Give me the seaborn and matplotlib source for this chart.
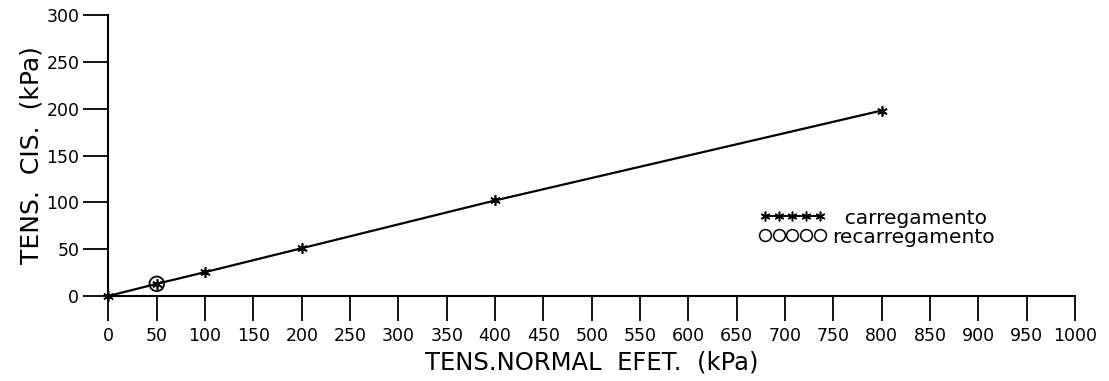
import matplotlib
matplotlib.use("Agg")
import matplotlib.pyplot as plt
import seaborn as sns
import pandas as pd
from matplotlib.lines import Line2D

# Shear test envelope: effective normal stress vs shear stress (kPa)
normal_load = [0, 50, 100, 200, 400, 800]
shear_load = [0, 13, 25.5, 51, 102, 198]
normal_reload = [50]
shear_reload = [13]

x_ticks = list(range(0, 1001, 50))
y_ticks = list(range(0, 301, 50))

sns.set_theme(style="ticks")
plt.rcParams["font.family"] = ["DejaVu Sans"]
plt.rcParams["text.color"] = "black"

fig = plt.figure(figsize=(11.09, 3.81), dpi=100)
ax = fig.add_axes([0.0978, 0.2231, 0.9693 - 0.0978, 0.9606 - 0.2231])

load = pd.DataFrame({"x": normal_load, "y": shear_load})
reload = pd.DataFrame({"x": normal_reload, "y": shear_reload})

sns.lineplot(data=load, x="x", y="y", ax=ax, color="black", linewidth=1.6,
             marker=(6, 2, 0), markersize=7.5, markeredgewidth=1.2,
             markeredgecolor="black", clip_on=False)
sns.scatterplot(data=reload, x="x", y="y", ax=ax, s=110, facecolor="none",
                edgecolor="black", linewidth=1.3, clip_on=False, zorder=5)

ax.set_xlim(0, 1000)
ax.set_ylim(0, 300)
ax.set_xticks(x_ticks)
ax.set_yticks(y_ticks)
ax.tick_params(axis="both", direction="out", length=18, width=1.3,
               color="black", labelsize=12.5, labelcolor="black")
ax.tick_params(axis="x", pad=4)
ax.tick_params(axis="y", pad=3)
for side in ("top", "right"):
    ax.spines[side].set_visible(False)
for side in ("left", "bottom"):
    ax.spines[side].set_linewidth(1.5)
    ax.spines[side].set_color("black")

ax.set_xlabel("TENS.NORMAL  EFET.  (kPa)", fontsize=17.5, color="black", labelpad=4)
ax.set_ylabel("TENS.  CIS.  (kPa)", fontsize=18, color="black", labelpad=2)

handles = [
    Line2D([], [], color="black", linewidth=1.4, marker=(6, 2, 0), markersize=7,
           markeredgewidth=1.1),
    Line2D([], [], color="none", marker="o", markersize=8.5, markerfacecolor="none",
           markeredgecolor="black", markeredgewidth=1.1),
]
leg = ax.legend(handles, ["  carregamento", "recarregamento"], numpoints=5,
                frameon=False, fontsize=14.5, handlelength=3.3, handletextpad=0.3,
                labelspacing=0.0, loc="upper left",
                bbox_to_anchor=(0.665, 0.34), borderaxespad=0)
for t in leg.get_texts():
    t.set_color("black")

fig.savefig("out.png", dpi=100)
